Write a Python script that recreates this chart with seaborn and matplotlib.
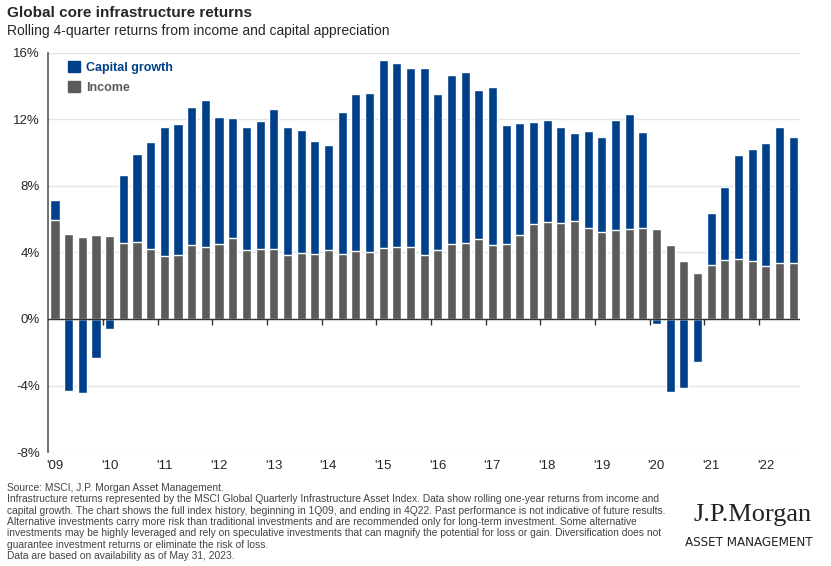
import numpy as np
import pandas as pd
import matplotlib.pyplot as plt
import seaborn as sns

# rolling 4-quarter returns (%)
income = [5.96, 5.12, 4.96, 5.04, 4.98, 4.56, 4.62, 4.24, 3.76, 3.82, 4.48, 4.36,
          4.50, 4.90, 4.16, 4.24, 4.24, 3.82, 3.94, 3.88, 4.16, 3.92, 4.10, 4.04,
          4.28, 4.32, 4.32, 3.82, 4.16, 4.54, 4.60, 4.82, 4.48, 4.50, 5.08, 5.70,
          5.82, 5.76, 5.92, 5.50, 5.22, 5.36, 5.40, 5.50, 5.42, 4.44, 3.49, 2.79,
          3.23, 3.55, 3.63, 3.49, 3.17, 3.37, 3.35]
capital = [1.17, -4.32, -4.48, -2.37, -0.62, 4.13, 5.32, 6.40, 7.81, 7.91, 8.27, 8.81,
           7.63, 7.19, 7.39, 7.67, 8.37, 7.71, 7.41, 6.84, 6.32, 8.55, 9.45, 9.55,
           11.28, 11.10, 10.78, 11.26, 9.35, 10.12, 10.26, 8.96, 9.46, 7.15, 6.71, 6.17,
           6.17, 5.77, 5.26, 5.79, 5.74, 6.63, 6.93, 5.72, -0.28, -4.38, -4.14, -2.59,
           3.14, 4.38, 6.21, 6.75, 7.43, 8.18, 7.57]
years = ["'09", "'10", "'11", "'12", "'13", "'14", "'15", "'16", "'17", "'18",
         "'19", "'20", "'21", "'22"]
quarters = [f"{q}Q{y:02d}" for y in range(9, 23) for q in range(1, 5)][:len(income)]

df = pd.DataFrame({"quarter": quarters, "income": income, "capital": capital})
# positive capital growth sits on top of income, negative goes below zero
df["cap_top"] = np.where(df["capital"] > 0, df["income"] + df["capital"], df["capital"])

BLUE = "#00408a"
GREY = "#5b5b5b"

sns.set_style("white")
plt.rcParams["font.family"] = ["Liberation Sans", "DejaVu Sans"]

fig = plt.figure(figsize=(8.31, 5.66), dpi=100)
ax = fig.add_axes([0.0578, 0.2014, 0.9049, 0.705])

sns.barplot(data=df, x="quarter", y="cap_top", color=BLUE, width=0.66,
            saturation=1, ax=ax, zorder=2)
sns.barplot(data=df, x="quarter", y="income", color=GREY, width=0.66,
            saturation=1, ax=ax, zorder=3)

ax.set_xlim(-0.51, len(df) - 0.49)
ax.set_ylim(-8, 16)
ax.set_yticks(range(-8, 17, 4))
ax.set_yticklabels([f"{v}%" for v in range(-8, 17, 4)], fontsize=9.5)
ax.yaxis.grid(True, color="#e3e3e3", linewidth=1, zorder=0)
ax.set_axisbelow(True)

ax.set_xticks(range(0, len(df), 4))
ax.set_xticklabels(years, fontsize=9.5)
ax.tick_params(axis="both", length=0, pad=6)
ax.set_xlabel("")
ax.set_ylabel("")

for s in ["top", "right", "bottom"]:
    ax.spines[s].set_visible(False)
ax.spines["left"].set_color("#555555")
ax.spines["left"].set_linewidth(1.2)

ax.axhline(0, color="#333333", linewidth=1, zorder=4)
ax.plot(np.arange(4, len(df), 4) - 0.5, np.zeros(len(range(4, len(df), 4))),
        marker=3, ls="none", color="#333333", markersize=4, zorder=4)

handles = [plt.Rectangle((0, 0), 1, 1, color=BLUE), plt.Rectangle((0, 0), 1, 1, color=GREY)]
leg = ax.legend(handles, ["Capital growth", "Income"], loc="upper left",
                bbox_to_anchor=(0.012, 1.008), frameon=False, handlelength=0.95,
                handleheight=0.95, handletextpad=0.5, labelspacing=0.62,
                prop={"weight": "bold", "size": 9})
for txt, c in zip(leg.get_texts(), [BLUE, GREY]):
    txt.set_color(c)

fig.text(0.009, 0.977, "Global core infrastructure returns", fontsize=11,
         fontweight="bold", va="center")
fig.text(0.009, 0.945, "Rolling 4-quarter returns from income and capital appreciation",
         fontsize=10, va="center")

footer = [
    "Source: MSCI, J.P. Morgan Asset Management.",
    "Infrastructure returns represented by the MSCI Global Quarterly Infrastructure Asset Index. Data show rolling one-year returns from income and",
    "capital growth. The chart shows the full index history, beginning in 1Q09, and ending in 4Q22. Past performance is not indicative of future results.",
    "Alternative investments carry more risk than traditional investments and are recommended only for long-term investment. Some alternative",
    "investments may be highly leveraged and rely on speculative investments that can magnify the potential for loss or gain. Diversification does not",
    "guarantee investment returns or eliminate the risk of loss.",
    "Data are based on availability as of May 31, 2023.",
]
for i, line in enumerate(footer):
    fig.text(0.009, 1 - (488 + i * 11.3) / 566, line, fontsize=7.4, color="#444444",
             va="center")

fig.text(0.977, 1 - 515 / 566, "J.P.Morgan", fontsize=19, ha="right", va="center",
         family=["Liberation Serif", "DejaVu Serif"], color="#222222")
fig.text(0.978, 1 - 542 / 566, "ASSET MANAGEMENT", fontsize=9.5, ha="right", va="center",
         family="DejaVu Sans", fontstretch="condensed", color="#222222")

fig.savefig("out.png", dpi=100)
